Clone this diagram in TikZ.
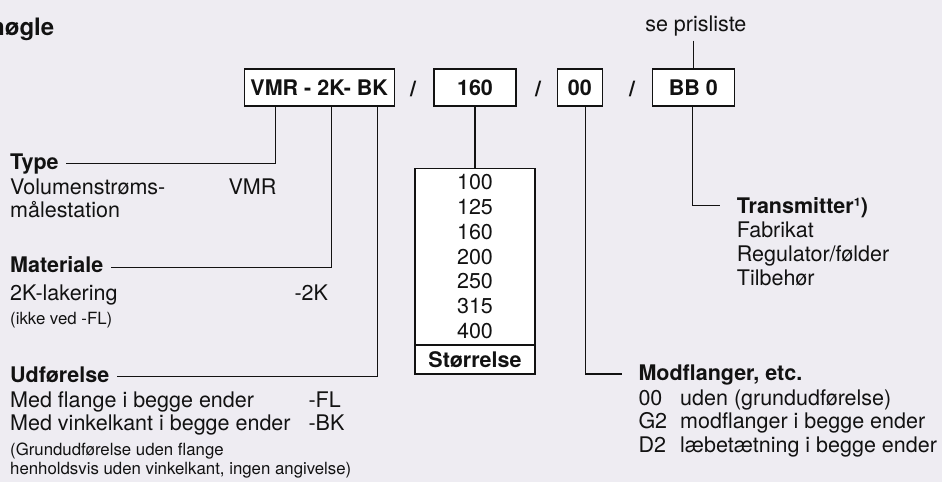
\documentclass[tikz,border=0pt]{standalone}
\usepackage{fontspec}
\setmainfont{TeX Gyre Heros}
\definecolor{bg}{RGB}{238,236,242}
\definecolor{ink}{RGB}{18,18,18}
\begin{document}
\begin{tikzpicture}[x=1pt,y=-1pt,
  txt/.style={inner sep=0pt, anchor=base west, text=ink, font=\fontsize{21.5}{24}\selectfont},
  hd/.style={txt, font=\fontsize{21.5}{24}\selectfont\bfseries},
  sm/.style={txt, font=\fontsize{16.8}{19}\selectfont},
  slash/.style={inner sep=0pt, anchor=base, text=ink, font=\fontsize{21.5}{24}\selectfont\bfseries},
  codebox/.style={draw=ink, fill=white, line width=1.2pt, minimum height=37pt, inner sep=0pt, text=ink, font=\fontsize{21.5}{24}\selectfont\bfseries},
  conn/.style={draw=ink, line width=1.2pt}]
\fill[bg] (0,0) rectangle (942,482);
\path[use as bounding box] (0,0) rectangle (942,482);

% title
\node[txt, font=\fontsize{24}{26}\selectfont\bfseries] (title) at (-10,35) {nøgle};

% code boxes
\node[codebox, minimum width=150pt] (box1) at (319.2,87.5) {VMR - 2K- BK};
\node[slash] (s1) at (413,96) {/};
\node[codebox, minimum width=82pt] (box2) at (475,87.5) {160};
\node[slash] (s2) at (538,96) {/};
\node[codebox, minimum width=45pt] (box3) at (579.8,87.5) {00};
\node[slash] (s3) at (632,96) {/};
\node[codebox, minimum width=82pt] (box4) at (693.3,87.5) {BB 0};

\node[inner sep=0pt, anchor=base, text=ink, font=\fontsize{21.5}{24}\selectfont] (sp) at (695.8,31.7) {se prisliste};
\draw[conn] ([yshift=-4pt]sp.south -| box4.north) -- (box4.north);

% size box
\node[draw=ink, fill=white, line width=1.2pt, minimum width=120pt, minimum height=176.7pt, inner sep=0pt, align=center, text=ink, font=\fontsize{21.5}{24.8}\selectfont] (sizes) at (475,256.65) {100\\125\\160\\200\\250\\315\\400};
\node[draw=ink, fill=white, line width=1.2pt, minimum width=120pt, minimum height=29pt, inner sep=0pt, text=ink, font=\fontsize{21.5}{24}\selectfont\bfseries] (sizelbl) at (475,359.5) {Størrelse};
\draw[conn] (box2.south) -- (sizes.north);

% left texts
\node[hd] (hType) at (10,169.5) {Type};
\node[txt] (tVol) at (10,194.5) {Volumenstrøms-};
\node[txt] (tVMR) at (228.3,194.5) {VMR};
\node[txt] (tMal) at (10,217.5) {målestation};

\node[hd] (hMat) at (10,272.5) {Materiale};
\node[txt] (t2K) at (10,300.5) {2K-lakering};
\node[txt] (tm2K) at (294.3,300.5) {-2K};
\node[sm] (tIkke) at (10,324) {(ikke ved -FL)};

\node[hd] (hUdf) at (10,382.7) {Udførelse};
\node[txt] (tFL) at (10,407) {Med flange i begge ender};
\node[txt] (tmFL) at (308.3,407) {-FL};
\node[txt] (tBK) at (10,430.5) {Med vinkelkant i begge ender};
\node[txt] (tmBK) at (308.3,430.5) {-BK};
\node[sm] (tG1) at (10,455.5) {(Grundudførelse uden flange};
\node[sm] (tG2) at (10,474.5) {henholdsvis uden vinkelkant, ingen angivelse)};

% right texts
\node[hd] (hTr) at (736.7,213.3) {Transmitter¹)};
\node[txt] (tFab) at (736.7,237) {Fabrikat};
\node[txt] (tReg) at (736.7,261.5) {Regulator/følder};
\node[txt] (tTil) at (736.7,285.5) {Tilbehør};

\node[hd] (hMod) at (638.3,380.7) {Modflanger, etc.};
\node[txt] (c00) at (638.3,405) {00};
\node[txt] (d00) at (680,405) {uden (grundudførelse)};
\node[txt] (cG2) at (638.3,428.5) {G2};
\node[txt] (dG2) at (680,428.5) {modflanger i begge ender};
\node[txt] (cD2) at (638.3,452) {D2};
\node[txt] (dD2) at (680,452) {læbetætning i begge ender};

% connector corners
\coordinate (kType) at (275.7,163.3);
\coordinate (kMat) at (331.7,267.7);
\coordinate (kUdf) at (377.3,376.7);
\coordinate (kMod) at (585.7,374);
\coordinate (kTr) at (692.7,205.7);

\draw[conn] (box1.south -| kType) |- ([xshift=7pt]hType.east |- kType);
\draw[conn] (box1.south -| kMat) |- ([xshift=8pt]hMat.east |- kMat);
\draw[conn] (box1.south -| kUdf) |- ([xshift=8pt]hUdf.east |- kUdf);
\draw[conn] (box3.south -| kMod) |- ([xshift=-16.7pt]hMod.west |- kMod);
\draw[conn] (box4.south -| kTr) |- ([xshift=-16.7pt]hTr.west |- kTr);
\end{tikzpicture}
\end{document}
